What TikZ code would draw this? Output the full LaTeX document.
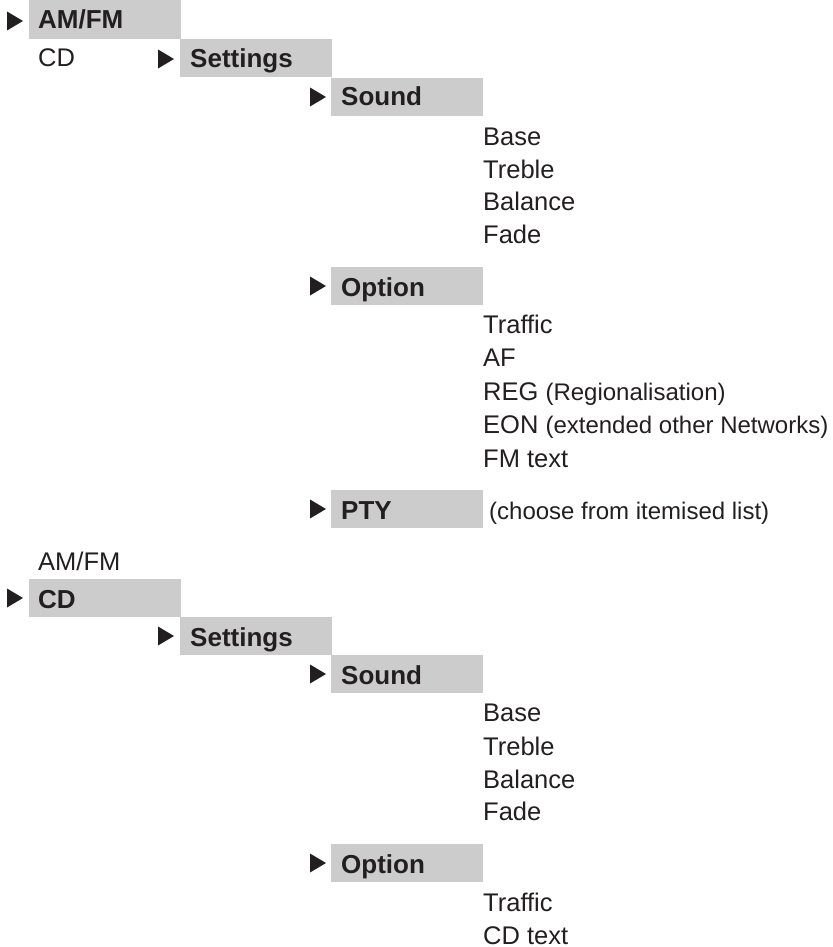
\documentclass[tikz,border=0pt]{standalone}
\usepackage{fontspec}
\setmainfont[Ligatures={NoCommon}]{Liberation Sans}
\definecolor{ink}{HTML}{231F20}
\definecolor{boxgray}{HTML}{CCCCCC}
\newcommand\menutri[3]{\fill[tri] (#2,#3-9.5) coordinate (#1) -- (#2+16,#3) -- (#2,#3+9.5) -- cycle;}
\tikzset{
  menubox/.style={fill=boxgray, draw=none, inner sep=0pt, minimum width=152pt, minimum height=38pt, anchor=north west},
  lbl/.style={anchor=base west, inner sep=0pt, text=ink, font=\fontsize{25.5}{30}\selectfont},
  blbl/.style={anchor=base west, inner sep=0pt, text=ink, font=\fontsize{26}{30}\selectfont\bfseries},
  slbl/.style={anchor=base west, inner sep=0pt, text=ink, font=\fontsize{24}{30}\selectfont},
  tri/.style={fill=ink, draw=none}
}
\newcommand\smalltxt[1]{{\fontsize{24}{30}\selectfont #1}}
\begin{document}
\begin{tikzpicture}[x=1pt,y=-1pt]
\useasboundingbox (0,0) rectangle (832,947);
% ---------- group 1 ----------
\node[menubox, minimum height=39pt] (b1amfm) at (29,0) {};
\node[menubox] (b1set) at (180,39) {};
\node[menubox] (b1snd) at (331,78) {};
\node[menubox] (b1opt) at (331,267) {};
\node[menubox] (b1pty) at (331,490) {};
\menutri{t1a}{7}{21}
\menutri{t1b}{158}{59}
\menutri{t1c}{310}{97}
\menutri{t1d}{310}{286}
\menutri{t1e}{310}{509}
\node[blbl] (l1amfm) at (38,29) {AM/FM};
\node[lbl] (l1cd) at (38,67) {CD};
\node[blbl] (l1set) at (190,68) {Settings};
\node[blbl] (l1snd) at (341,106) {Sound};
\node[lbl] (l1base) at (483,145) {Base};
\node[lbl] (l1treb) at (483,178) {Treble};
\node[lbl] (l1bal) at (483,210) {Balance};
\node[lbl] (l1fade) at (483,243) {Fade};
\node[blbl] (l1opt) at (341,296) {Option};
\node[lbl] (l1traf) at (483,333) {Traffic};
\node[lbl] (l1af) at (483,366) {AF};
\node[lbl] (l1reg) at (483,400) {REG \smalltxt{(Regionalisation)}};
\node[lbl] (l1eon) at (483,433) {EON \smalltxt{(extended other Networks)}};
\node[lbl] (l1fm) at (483,467) {FM text};
\node[blbl] (l1pty) at (341,519) {PTY};
\node[slbl] (l1choose) at (489,519) {(choose from itemised list)};
% ---------- group 2 ----------
\node[menubox] (b2cd) at (29,579) {};
\node[menubox] (b2set) at (180,617) {};
\node[menubox] (b2snd) at (331,655) {};
\node[menubox] (b2opt) at (331,844) {};
\menutri{t2a}{7}{598}
\menutri{t2b}{158}{636}
\menutri{t2c}{310}{674}
\menutri{t2d}{310}{863}
\node[lbl] (l2amfm) at (38,570) {AM/FM};
\node[blbl] (l2cd) at (38,608) {CD};
\node[blbl] (l2set) at (190,646) {Settings};
\node[blbl] (l2snd) at (341,684) {Sound};
\node[lbl] (l2base) at (483,721) {Base};
\node[lbl] (l2treb) at (483,755) {Treble};
\node[lbl] (l2bal) at (483,788) {Balance};
\node[lbl] (l2fade) at (483,820) {Fade};
\node[blbl] (l2opt) at (341,873) {Option};
\node[lbl] (l2traf) at (483,911) {Traffic};
\node[lbl] (l2cdt) at (483,944) {CD text};
\end{tikzpicture}
\end{document}
